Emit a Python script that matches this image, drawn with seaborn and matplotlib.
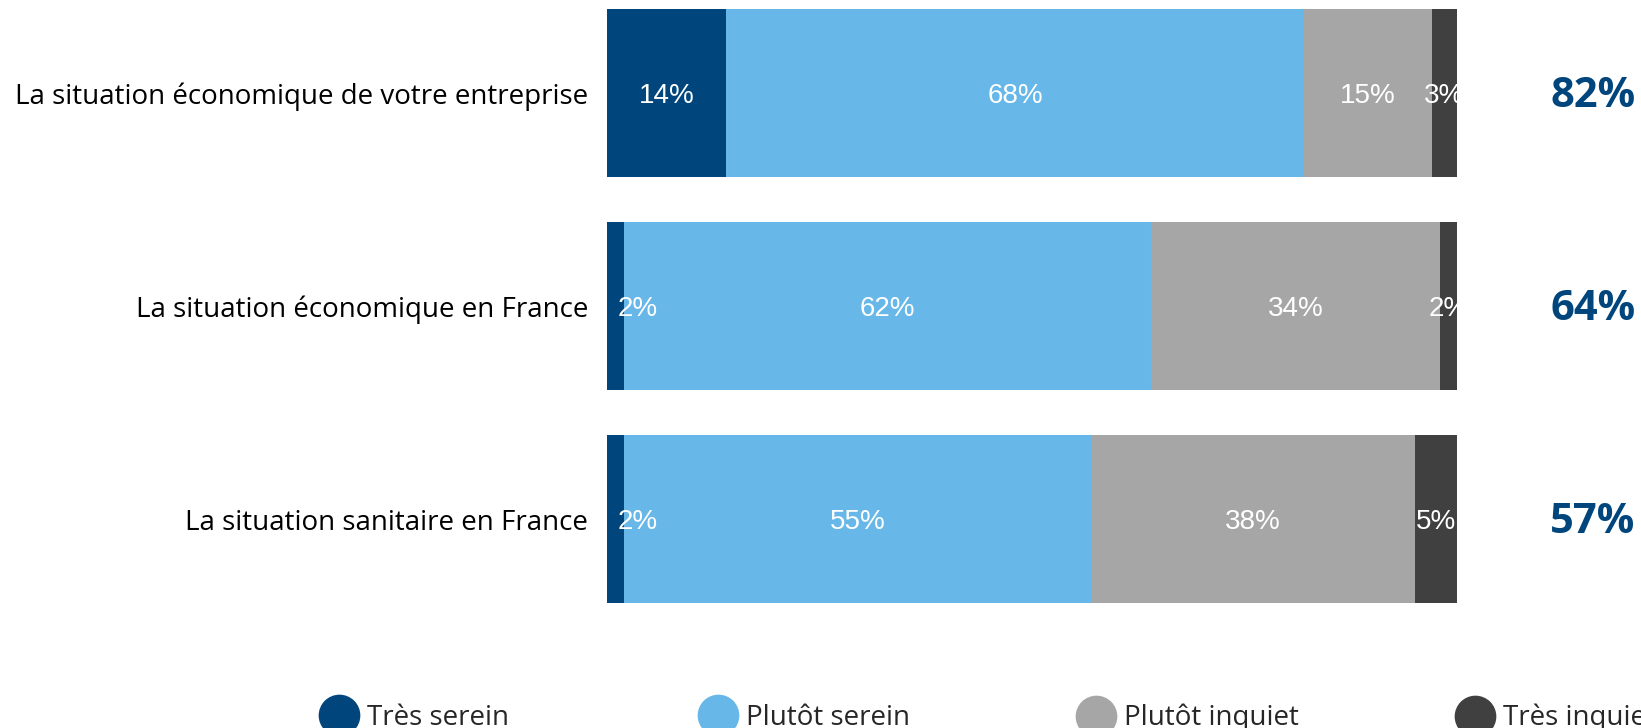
import matplotlib.pyplot as plt
import seaborn as sns
import pandas as pd
import numpy as np
from matplotlib.lines import Line2D

# Data
questions = ['La situation économique de votre entreprise',
             'La situation économique en France',
             'La situation sanitaire en France']
levels = ['Très serein', 'Plutôt serein', 'Plutôt inquiet', 'Très inquiet']
tres_serein = [14, 2, 2]
plutot_serein = [68, 62, 55]
plutot_inquiet = [15, 34, 38]
tres_inquiet = [3, 2, 5]

colors = ['#00457C', '#67B7E8', '#A6A6A6', '#404040']
total_color = '#00457C'

sns.set_theme(style='white')
plt.rcParams['font.family'] = ['Open Sans', 'DejaVu Sans']

df = pd.DataFrame({'question': questions,
                   levels[0]: tres_serein, levels[1]: plutot_serein,
                   levels[2]: plutot_inquiet, levels[3]: tres_inquiet})
cum = df[levels].cumsum(axis=1)

fig = plt.figure(figsize=(16.41, 7.28), dpi=100)
ax = fig.add_axes([607 / 1641, 1 - 608.5 / 728, 850 / 1641, 605 / 728])

# stacked bars: draw cumulative totals from the widest down
for lvl, col in reversed(list(zip(levels, colors))):
    sns.barplot(x=cum[lvl], y=df['question'], color=col, orient='h',
                width=0.79, saturation=1, ax=ax, linewidth=0)

ax.set_xlim(0, 100)
ax.set_ylim(2.42, -0.42)

# segment labels
for i in range(len(questions)):
    left = 0
    for j, lvl in enumerate(levels):
        v = df[lvl].iloc[i]
        mid = left + v / 2
        if j == 0 and v < 5:
            mid = max(mid, 3.6)
        ax.text(mid, i + 0.015, f'{v}%', ha='center', va='center', color='white',
                fontsize=20, family=['Liberation Sans', 'DejaVu Sans'], clip_on=True)
        left += v
    total = tres_serein[i] + plutot_serein[i]
    ax.text(116, i + 0.015, f'{total}%', ha='center', va='center', color=total_color,
            fontsize=30, fontweight='bold', clip_on=False)

ax.set_xlabel('')
ax.set_ylabel('')
ax.set_xticks([])
ax.tick_params(axis='y', length=0, pad=13.7, labelsize=20, labelcolor='black')
sns.despine(ax=ax, left=True, bottom=True)

# legend, one entry per slot
slot_x = [339, 718, 1096, 1475]
for lvl, col, cx in zip(levels, colors, slot_x):
    h = Line2D([], [], marker='o', linestyle='', markersize=29,
               markerfacecolor=col, markeredgecolor=col)
    fig.legend(handles=[h], labels=[lvl], loc='center left',
               bbox_to_anchor=((cx - 19) / 1641, 1 - 718 / 728),
               frameon=False, fontsize=20, handlelength=1.4,
               handletextpad=0.3, borderpad=0, borderaxespad=0)

fig.savefig('out.png', dpi=100)
